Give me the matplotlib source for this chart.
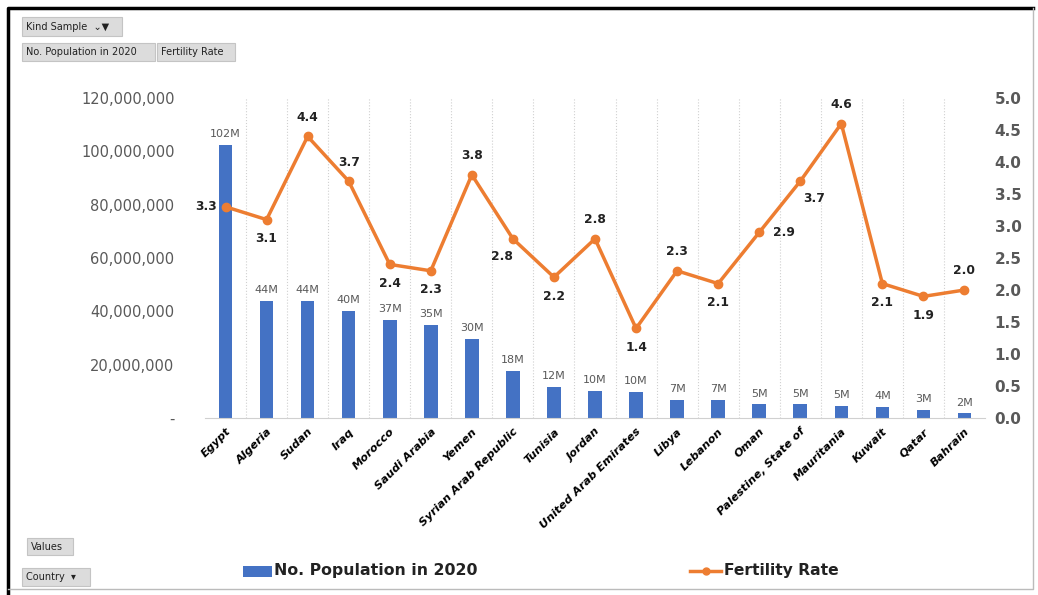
import numpy as np
import matplotlib.pyplot as plt
from matplotlib.patches import Rectangle
from matplotlib.lines import Line2D
from matplotlib.ticker import FuncFormatter

countries = ["Egypt", "Algeria", "Sudan", "Iraq", "Morocco", "Saudi Arabia", "Yemen",
             "Syrian Arab Republic", "Tunisia", "Jordan", "United Arab Emirates", "Libya",
             "Lebanon", "Oman", "Palestine, State of", "Mauritania", "Kuwait", "Qatar", "Bahrain"]
population = [102.3e6, 43.9e6, 43.8e6, 40.2e6, 36.9e6, 34.8e6, 29.8e6, 17.5e6, 11.8e6, 10.2e6,
              9.9e6, 6.9e6, 6.8e6, 5.1e6, 5.1e6, 4.6e6, 4.3e6, 2.9e6, 1.7e6]
fertility = [3.3, 3.1, 4.4, 3.7, 2.4, 2.3, 3.8, 2.8, 2.2, 2.8, 1.4, 2.3, 2.1, 2.9, 3.7, 4.6, 2.1, 1.9, 2.0]
# where each fertility label sits relative to its point
label_pos = ["left", "below", "above", "above", "below", "below", "above", "belowleft", "below",
             "above", "below", "above", "below", "right", "belowright", "above", "below", "below", "above"]

blue = "#4472C4"
orange = "#ED7D31"
gray = "#595959"

fig = plt.figure(figsize=(10.38, 5.95), dpi=100)
ax = fig.add_axes([205 / 1038, 177 / 595, 780 / 1038, 320 / 595])
ax2 = ax.twinx()

x = np.arange(len(countries))
ax.bar(x, population, width=0.33, color=blue, zorder=2)
for xi, v in zip(x, population):
    ax.text(xi, v + 2.2e6, f"{round(v / 1e6):.0f}M", ha="center", va="bottom",
            fontsize=8, color=gray)

ax.set_ylim(0, 120e6)
ax.set_yticks(np.arange(0, 120e6 + 1, 20e6))
ax.yaxis.set_major_formatter(FuncFormatter(lambda v, p: "-" if v == 0 else f"{v:,.0f}"))
ax.set_xlim(-0.5, len(countries) - 0.5)
ax.set_xticks(x)
ax.set_xticklabels(countries, rotation=45, ha="right", rotation_mode="anchor",
                   fontsize=8.2, fontstyle="italic", fontweight="bold")
ax.tick_params(axis="y", labelsize=10.5, colors=gray, length=0, pad=22)
ax.tick_params(axis="x", length=0, pad=6)
for b in np.arange(0.5, len(countries) - 0.5, 1):
    ax.axvline(b, color="#d0d0d0", lw=0.8, ls=":", zorder=0)
for s in ["top", "right", "left"]:
    ax.spines[s].set_visible(False)
ax.spines["bottom"].set_color("#d0d0d0")

ax2.plot(x, fertility, color=orange, lw=2.5, marker="o", markersize=6, zorder=3)
ax2.set_ylim(0, 5)
ax2.set_yticks(np.arange(0, 5.01, 0.5))
ax2.yaxis.set_major_formatter(FuncFormatter(lambda v, p: f"{v:.1f}"))
ax2.tick_params(axis="y", labelsize=11, colors=gray, length=0, pad=7)
for lbl in ax2.get_yticklabels():
    lbl.set_fontweight("bold")
for s in ["top", "right", "left", "bottom"]:
    ax2.spines[s].set_visible(False)

offsets = {"above": (0, 9, "center", "bottom"), "below": (0, -9, "center", "top"),
           "left": (-6, 0, "right", "center"), "right": (10, 0, "left", "center"),
           "belowleft": (-8, -8, "center", "top"), "belowright": (10, -8, "center", "top")}
for xi, v, pos in zip(x, fertility, label_pos):
    dx, dy, ha, va = offsets[pos]
    ax2.annotate(f"{v:.1f}", (xi, v), xytext=(dx, dy), textcoords="offset points",
                 ha=ha, va=va, fontsize=8.8, fontweight="bold", color="#222222")

# pivot-chart field buttons
def button(x0, y0, w, h, text, size=7):
    fig.patches.append(Rectangle((x0 / 1038, 1 - (y0 + h) / 595), w / 1038, h / 595,
                                 transform=fig.transFigure, facecolor="#dcdcdc",
                                 edgecolor="#c4c4c4", lw=0.8))
    fig.text((x0 + 4) / 1038, 1 - (y0 + h / 2) / 595, text, fontsize=size,
             va="center", ha="left", color="#222222")

button(22, 17, 100, 19, "Kind Sample  \u2304\u25BC")
button(22, 43, 133, 18, "No. Population in 2020")
button(157, 43, 78, 18, "Fertility Rate")
button(27, 538, 46, 17, "Values")
button(22, 568, 68, 18, "Country  \u25BE")

# legend
fig.patches.append(Rectangle((243 / 1038, 1 - 577 / 595), 29 / 1038, 11 / 595,
                             transform=fig.transFigure, facecolor=blue, edgecolor="none"))
fig.text(274 / 1038, 1 - 571 / 595, "No. Population in 2020", fontsize=11.3,
         fontweight="bold", va="center", ha="left", color="#222222")
fig.lines.append(Line2D([690 / 1038, 721 / 1038], [1 - 571 / 595] * 2, transform=fig.transFigure,
                        color=orange, lw=2.5))
fig.lines.append(Line2D([705.5 / 1038], [1 - 571 / 595], transform=fig.transFigure,
                        color=orange, marker="o", markersize=5))
fig.text(724 / 1038, 1 - 571 / 595, "Fertility Rate", fontsize=11.2,
         fontweight="bold", va="center", ha="left", color="#222222")

# outer frame
fig.lines.append(Line2D([8 / 1038, 8 / 1038, 1033 / 1038], [2 / 595, 1 - 8 / 595, 1 - 8 / 595],
                        transform=fig.transFigure, color="black", lw=2.5))
fig.lines.append(Line2D([1033 / 1038, 1033 / 1038, 8 / 1038], [1 - 8 / 595, 6 / 595, 6 / 595],
                        transform=fig.transFigure, color="#bbbbbb", lw=1))

fig.savefig("out.png", dpi=100)
